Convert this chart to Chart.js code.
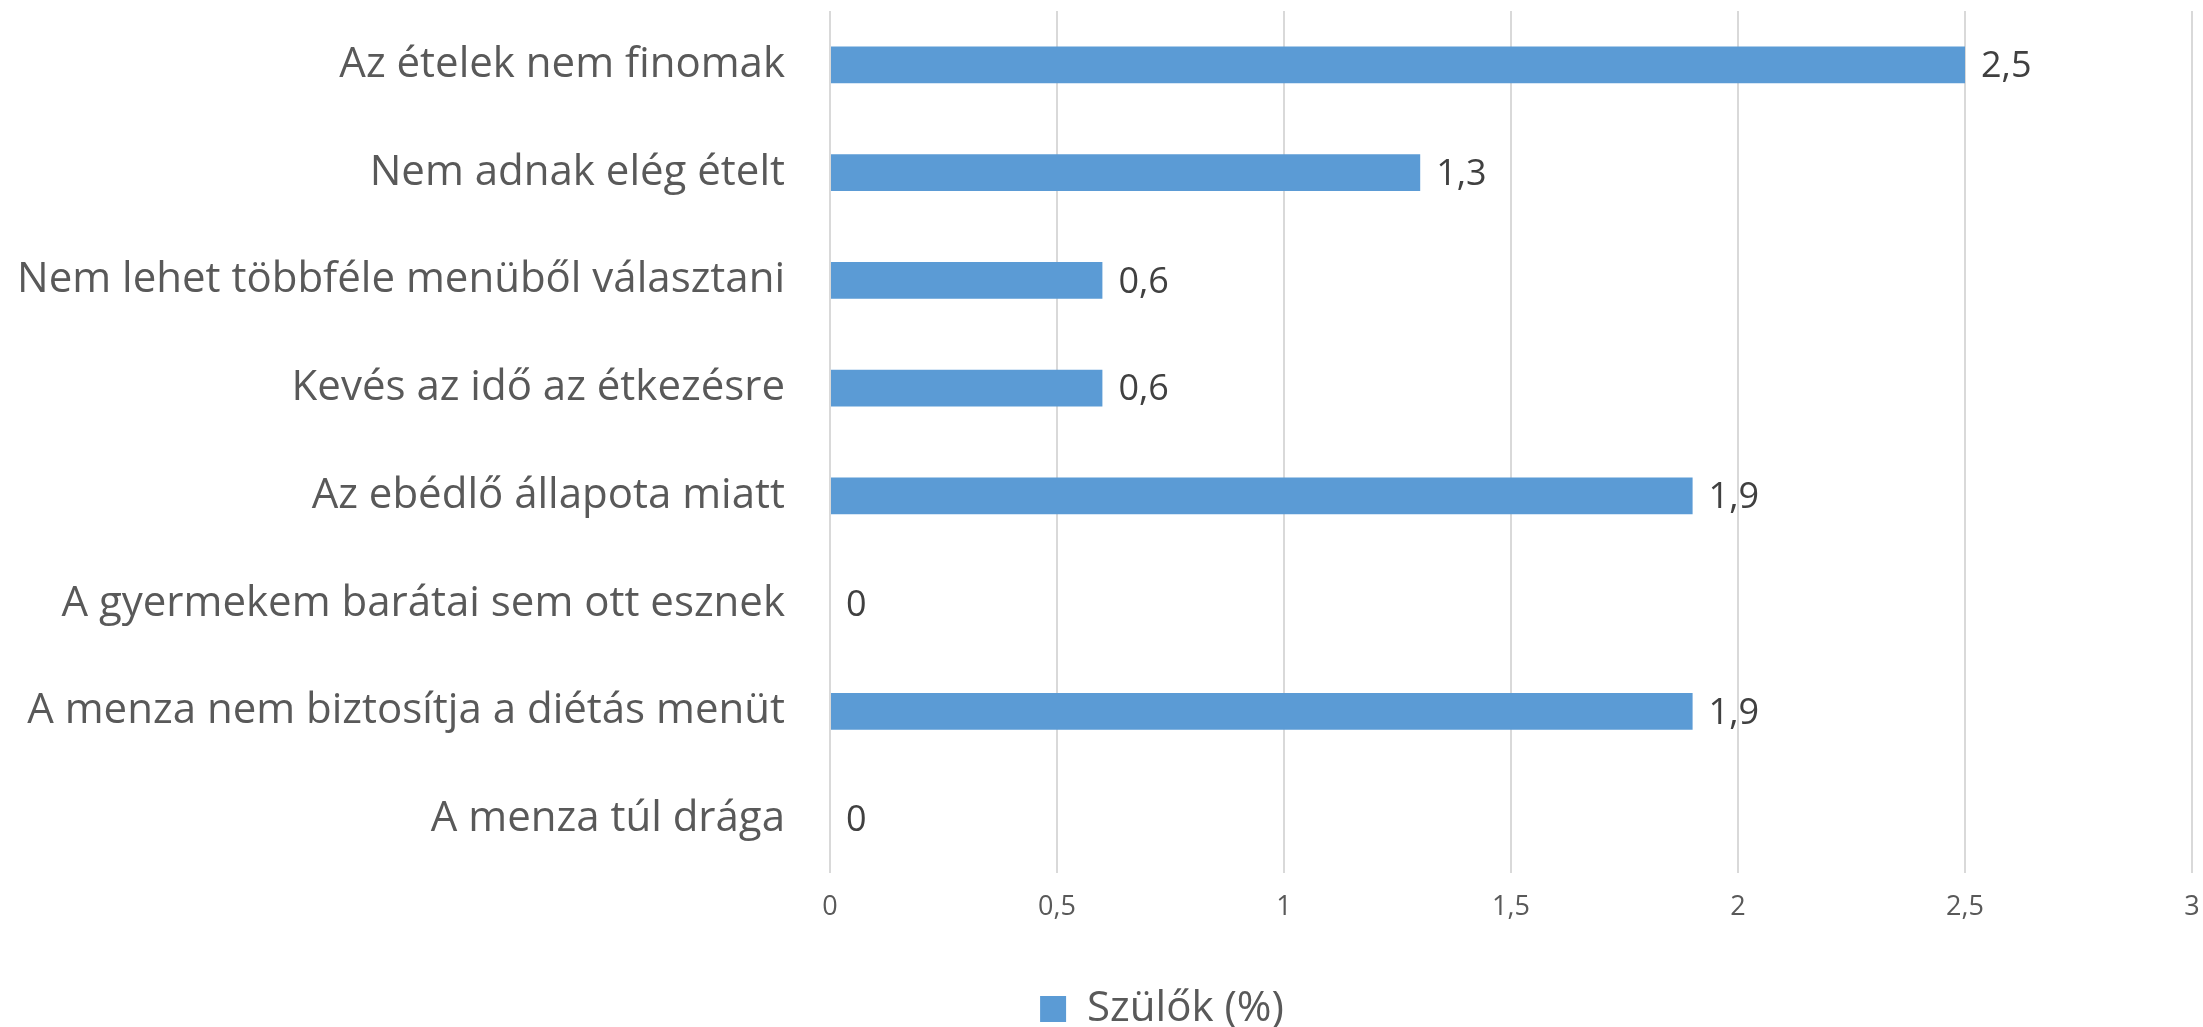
<!DOCTYPE html>
<html>
<head>
<meta charset="utf-8">
<script src="https://cdn.jsdelivr.net/npm/chart.js@4/dist/chart.umd.min.js"></script>
<style>
  html, body { margin: 0; padding: 0; background: #fff; }
  #wrap { width: 2203px; height: 1027px; }
</style>
</head>
<body>
<div id="wrap"><canvas id="menzaChart"></canvas></div>
<script>
const categories = [
    'Az ételek nem finomak',
    'Nem adnak elég ételt',
    'Nem lehet többféle menüből választani',
    'Kevés az idő az étkezésre',
    'Az ebédlő állapota miatt',
    'A gyermekem barátai sem ott esznek',
    'A menza nem biztosítja a diétás menüt',
    'A menza túl drága'
]
const parentValues = [2.5, 1.3, 0.6, 0.6, 1.9, 0, 1.9, 0]
const seriesName = 'Szülők (%)'
const xTicks = [0, 0.5, 1, 1.5, 2, 2.5, 3]

const fmt = (v) => String(v).replace('.', ',')

// value labels next to the bar ends
const valueLabels = {
    id: 'valueLabels',
    afterDatasetsDraw(chart) {
        const ctx = chart.ctx
        const meta = chart.getDatasetMeta(0)
        ctx.save()
        ctx.font = '36px "Open Sans"'
        ctx.fillStyle = '#404040'
        ctx.textAlign = 'left'
        ctx.textBaseline = 'middle'
        meta.data.forEach((bar, i) => {
            ctx.fillText(fmt(parentValues[i]), bar.x + 16, bar.y + 2)
        })
        ctx.restore()
    }
}

// legend sits a bit right of the canvas centre in the original
const legendShift = {
    id: 'legendShift',
    afterLayout(chart) {
        chart.legend.left += 66
        chart.legend.right += 66
    }
}

const ctx = document.getElementById('menzaChart').getContext('2d')
const menzaChart = new Chart(ctx, {
    type: 'bar',
    data: {
        labels: categories,
        datasets: [{
            label: seriesName,
            data: parentValues,
            backgroundColor: '#5B9BD5',
            borderWidth: 0,
            barPercentage: 0.34,
            categoryPercentage: 1
        }]
    },
    options: {
        indexAxis: 'y',
        responsive: true,
        maintainAspectRatio: false,
        animation: false,
        layout: { padding: { top: 11, right: 11, left: 0, bottom: -13 } },
        scales: {
            x: {
                min: 0,
                max: 3,
                afterBuildTicks: (scale) => { scale.ticks = xTicks.map(v => ({ value: v })) },
                afterFit: (scale) => {
                    scale.height = 105
                    scale.paddingLeft = 0
                    scale.paddingRight = 0
                },
                grid: { color: '#D9D9D9', lineWidth: 2, drawTicks: false },
                border: { display: false },
                ticks: {
                    padding: 18,
                    color: '#595959',
                    font: { family: 'Open Sans', size: 27 },
                    callback: (v) => fmt(v)
                }
            },
            y: {
                afterFit: (scale) => {
                    scale.width = 830
                    scale.paddingTop = 0
                    scale.paddingBottom = 0
                },
                grid: { display: false, drawTicks: false },
                border: { display: false },
                ticks: {
                    padding: 45,
                    color: '#595959',
                    font: { family: 'Open Sans', size: 42 }
                }
            }
        },
        plugins: {
            legend: {
                position: 'bottom',
                labels: {
                    color: '#595959',
                    boxWidth: 26,
                    boxHeight: 26,
                    padding: 10,
                    font: { family: 'Open Sans', size: 42 }
                }
            },
            tooltip: { enabled: false }
        }
    },
    plugins: [valueLabels, legendShift]
})
</script>
</body>
</html>
